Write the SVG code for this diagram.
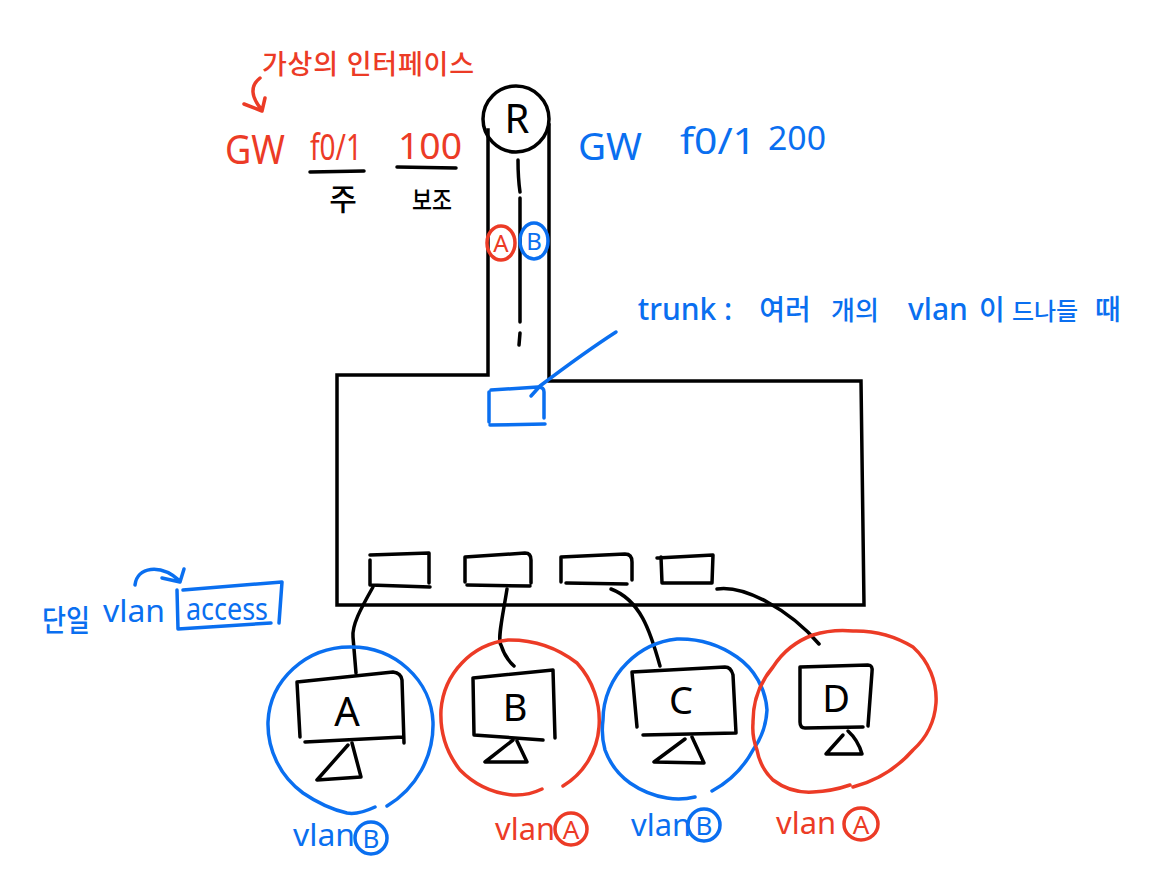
<svg xmlns="http://www.w3.org/2000/svg" width="1156" height="886" viewBox="0 0 1156 886">
<style>
.k{fill:none;stroke:#000;stroke-width:3.5;stroke-linecap:round;stroke-linejoin:round}
.b{fill:none;stroke:#0a6ff0;stroke-width:3.5;stroke-linecap:round;stroke-linejoin:round}
.r{fill:none;stroke:#ec3b26;stroke-width:3.5;stroke-linecap:round;stroke-linejoin:round}
text{font-family:"Noto Sans","Noto Sans CJK KR",sans-serif;text-anchor:middle}
.tb{fill:#0a6ff0}.tr{fill:#ec3b26}.tk{fill:#000}
.ko{font-weight:500}
</style>
<rect width="1156" height="886" fill="#fff"/>
<g id="switch">
<path class="k" style="stroke-linecap:square;stroke-linejoin:miter" d="M488,130V375H337V605H864L861,381H549V125"/>
<path class="b" d="M489,392L489,422M491,390L538,387Q544,387 544,392V418M490,425L545,424"/>
</g>
<g id="router-R">
<circle class="k" cx="516" cy="119" r="33" fill="#fff"/>
<text class="tk" x="517" y="133" font-size="40">R</text>
</g>
<g id="connectors">
<path class="k" d="M518,160Q518,178 520,192M520,198L520,322M520,333L519,345"/>
<path class="b" d="M616,332Q585,352 540,386L531,396"/>
<path class="k" d="M373,587C360,610 352,625 353,637L356,673"/>
<path class="k" d="M507,589C503,615 497,640 501,645Q505,658 514,666"/>
<path class="k" d="M611,589C640,600 650,630 660,666"/>
<path class="k" d="M717,589C745,585 790,610 819,644"/>
</g>
<g id="left-label">
<path class="r" d="M260,78Q245,90 262,110M244,104L262,111L265,98"/>
<text class="tr ko" x="368" y="74" font-size="27" textLength="212">가상의 인터페이스</text>
<text class="tr" x="255" y="164" font-size="40" textLength="60" lengthAdjust="spacingAndGlyphs">GW</text>
<text class="tr" x="336" y="160" font-size="36" textLength="52" lengthAdjust="spacingAndGlyphs">f0/1</text>
<text class="tr" x="430" y="159" font-size="36" textLength="64" lengthAdjust="spacingAndGlyphs">100</text>
<path class="k" d="M310,172L364,171M397,167L456,168"/>
<text class="tk ko" x="343" y="210" font-size="30">주</text>
<text class="tk ko" x="432" y="210" font-size="26" textLength="40" lengthAdjust="spacingAndGlyphs">보조</text>
</g>
<g id="right-label">
<text class="tb" x="610" y="160" font-size="38" textLength="64" lengthAdjust="spacingAndGlyphs">GW</text>
<text class="tb" x="718" y="154" font-size="36" textLength="76" lengthAdjust="spacingAndGlyphs">f0/1</text>
<text class="tb" x="797" y="150" font-size="32" textLength="58" lengthAdjust="spacingAndGlyphs">200</text>
</g>
<g id="badge-A">
<ellipse class="r" cx="501" cy="243" rx="14" ry="17"/>
<text class="tr" x="501" y="252" font-size="24">A</text>
</g>
<g id="badge-B">
<ellipse class="b" cx="534" cy="241" rx="14" ry="18"/>
<text class="tb" x="534" y="250" font-size="24">B</text>
</g>
<g id="trunk-label">
<text class="tb ko" y="320" font-size="30"><tspan x="685">trunk :</tspan><tspan x="785" font-size="28">여러</tspan><tspan x="855" font-size="26">개의</tspan><tspan x="938">vlan</tspan><tspan x="992" font-size="28">이</tspan><tspan x="1045" font-size="24">드나들</tspan><tspan x="1108" font-size="28">때</tspan></text>
</g>
<g id="access-label">
<path class="b" d="M135,585C137,567 160,563 180,581M162,578L180,582L184,569"/>
<path class="b" d="M177,590L178,629L271,623M183,590L282,582L279,623"/>
<text class="tb ko" x="66" y="631" font-size="30" textLength="48" lengthAdjust="spacingAndGlyphs">단일</text>
<text class="tb" x="134" y="622" font-size="30" textLength="62" lengthAdjust="spacingAndGlyphs">vlan</text>
<text class="tb" x="227" y="620" font-size="30" textLength="82" lengthAdjust="spacingAndGlyphs">access</text>
</g>
<g id="port-1"><path class="k" d="M370,555L429,553V583M370,560V585L430,587"/></g>
<g id="port-2"><path class="k" d="M465,557L525,553Q531,553 531,560V583M465,557V582M467,585L530,586"/></g>
<g id="port-3"><path class="k" d="M561,557L625,554Q632,554 632,562V580M561,557V582M566,583L627,584"/></g>
<g id="port-4"><path class="k" d="M657,558L713,555L712,583M661,557L662,583L712,583"/></g>
<g id="pc-A">
<path class="b" d="M375,807Q358,815 347,813Q325,808 303,793A85,85 0 0 1 268,722A82,78 0 0 1 350,647A82,78 0 0 1 433,722A95,95 0 0 1 387,806"/>
<path class="k" d="M297,682L393,672Q401,673 402,680L404,743M297,682L300,737M305,742L403,737"/>
<path class="k" d="M348,745L317,780L361,777L352,743"/>
<text class="tk" x="347" y="726" font-size="40">A</text>
<text class="tb" x="324" y="846" font-size="30" textLength="62" lengthAdjust="spacingAndGlyphs">vlan</text>
<ellipse class="b" cx="371" cy="838" rx="16" ry="16"/>
<text class="tb" x="371" y="848" font-size="26">B</text>
</g>
<g id="pc-B">
<path class="r" d="M542,789A60,60 0 0 1 513,795A85,85 0 0 1 460,770A90,90 0 0 1 441,710A76,76 0 0 1 508,640A110,110 0 0 1 577,663A85,85 0 0 1 599,727A75,75 0 0 1 563,786"/>
<path class="k" d="M473,678L553,670L555,738M473,678L474,735L543,740"/>
<path class="k" d="M513,740L485,762L527,762L517,741"/>
<text class="tk" x="515" y="721" font-size="38">B</text>
<text class="tr" x="525" y="840" font-size="30" textLength="60" lengthAdjust="spacingAndGlyphs">vlan</text>
<ellipse class="r" cx="571" cy="829" rx="16" ry="16"/>
<text class="tr" x="571" y="839" font-size="26">A</text>
</g>
<g id="pc-C">
<path class="b" d="M695,797A70,70 0 0 1 667,798A90,90 0 0 1 630,783A70,70 0 0 1 605,750A75,75 0 0 1 603,720A80,80 0 0 1 627,663A82,82 0 0 1 677,639A100,100 0 0 1 737,657A70,70 0 0 1 767,710A75,75 0 0 1 753,750A100,100 0 0 1 712,791"/>
<path class="k" d="M632,672L725,667Q731,667 733,675L736,733L643,735M632,672L637,727"/>
<path class="k" d="M685,739L654,762L704,763L692,737"/>
<text class="tk" x="681" y="714" font-size="38">C</text>
<text class="tb" x="661" y="836" font-size="30" textLength="60" lengthAdjust="spacingAndGlyphs">vlan</text>
<ellipse class="b" cx="704" cy="825" rx="16" ry="16"/>
<text class="tb" x="704" y="835" font-size="26">B</text>
</g>
<g id="pc-D">
<path class="r" d="M850,785A130,130 0 0 1 813,792A60,60 0 0 1 773,780A55,55 0 0 1 757,750A60,60 0 0 1 753,723A85,85 0 0 1 773,667A80,80 0 0 1 813,635A100,100 0 0 1 853,631A110,110 0 0 1 913,647A70,70 0 0 1 936,703A70,70 0 0 1 913,750A120,120 0 0 1 853,787"/>
<path class="k" d="M800,667L868,665Q873,665 872,672L868,726M800,667V722Q800,728 805,728L863,727"/>
<path class="k" d="M843,735L826,754L862,754Q858,740 848,731"/>
<text class="tk" x="836" y="712" font-size="38">D</text>
<text class="tr" x="806" y="834" font-size="30" textLength="60" lengthAdjust="spacingAndGlyphs">vlan</text>
<ellipse class="r" cx="861" cy="824" rx="17" ry="16"/>
<text class="tr" x="861" y="834" font-size="26">A</text>
</g>
</svg>
